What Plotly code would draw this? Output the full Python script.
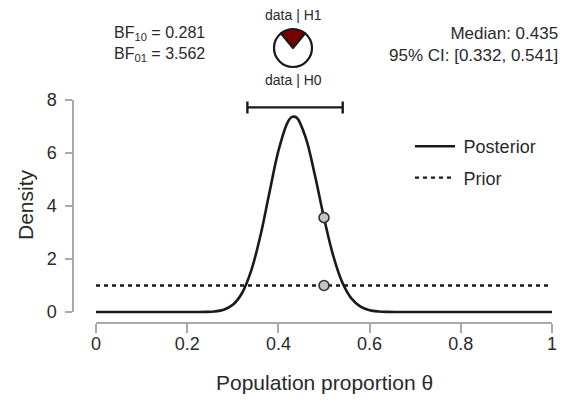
import plotly.graph_objects as go

# ---- data ----
theta = [0.00, 0.02, 0.04, 0.06, 0.08, 0.10, 0.12, 0.14, 0.16, 0.18,
         0.20, 0.22, 0.24, 0.26, 0.28, 0.30, 0.32, 0.34, 0.36, 0.38,
         0.40, 0.42, 0.43, 0.44, 0.46, 0.48, 0.50, 0.52, 0.54, 0.56,
         0.58, 0.60, 0.62, 0.64, 0.66, 0.68, 0.70, 0.72, 0.74, 0.76,
         0.78, 0.80, 0.82, 0.84, 0.86, 0.88, 0.90, 0.92, 0.94, 0.96,
         0.98, 1.00]
posterior = [0, 0, 0, 0, 0, 0, 0, 0, 0, 0,
             0.0001, 0.0006, 0.004, 0.021, 0.085, 0.270, 0.707, 1.542, 2.837, 4.476,
             6.078, 7.148, 7.362, 7.336, 6.572, 5.165, 3.553, 2.140, 1.126, 0.516,
             0.205, 0.070, 0.021, 0.005, 0.001, 0, 0, 0, 0, 0,
             0, 0, 0, 0, 0, 0, 0, 0, 0, 0,
             0, 0]
prior_x = [0.0, 1.0]
prior_y = [1.0, 1.0]
test_value = 0.5
posterior_at_test = 3.562
prior_at_test = 1.0
median = 0.435
ci_lower = 0.332
ci_upper = 0.541
bf10 = 0.281
bf01 = 3.562
x_ticks = [0, 0.2, 0.4, 0.6, 0.8, 1]
x_tick_labels = ["0", "0.2", "0.4", "0.6", "0.8", "1"]
y_ticks = [0, 2, 4, 6, 8]
y_tick_labels = ["0", "2", "4", "6", "8"]
pie_labels = ["data | H1", "data | H0"]
pie_values = [bf10, 1.0]
series_names = ["Posterior", "Prior"]

# ---- geometry (pixels in a 565x401 page) ----
W, H = 565, 401
FONT = "Liberation Sans, Arial, sans-serif"
TXT = "#2a2a2a"
AX = "#aaaaaa"

def px(x):
    return x / W

def py(y):
    return 1 - y / H

x0_px, x1_px = 96, 552        # theta 0 -> 1
y0_px, y8_px = 312, 100       # density 0 -> 8
ppx = (x1_px - x0_px) / 1.0
ppy = (y0_px - y8_px) / 8.0

data_xr = [-0.02, 1.02]
data_yr = [-0.6, 8.3]
dx_dom = [px(x0_px + data_xr[0] * ppx), px(x0_px + data_xr[1] * ppx)]
dy_dom = [py(y0_px - data_yr[0] * ppy), py(y0_px - data_yr[1] * ppy)]

fig = go.Figure()

fig.add_trace(go.Scatter(
    x=theta, y=posterior, mode="lines", name="\u2009" + series_names[0],
    line=dict(color="#1a1a1a", width=2.6, shape="spline", smoothing=1.0),
    legendgroup="post", hoverinfo="skip"))
fig.add_trace(go.Scatter(
    x=prior_x, y=prior_y, mode="lines", name="\u2009" + series_names[1],
    line=dict(color="#1a1a1a", width=2.4, dash="4px,4px"),
    legendgroup="prior", hoverinfo="skip"))
fig.add_trace(go.Scatter(
    x=[test_value, test_value], y=[posterior_at_test, prior_at_test],
    mode="markers", showlegend=False, hoverinfo="skip",
    marker=dict(size=10, color="#c4c4c4", line=dict(color="#333", width=1.6))))
fig.add_trace(go.Scatter(
    x=[median], y=[7.72], mode="markers", showlegend=False, hoverinfo="skip",
    marker=dict(size=1, color="rgba(0,0,0,0)"),
    error_x=dict(type="data", symmetric=False,
                 array=[ci_upper - median], arrayminus=[median - ci_lower],
                 color="#1a1a1a", thickness=2.4, width=6)))

# display axes (R-style detached)
fig.add_trace(go.Scatter(x=[None], y=[None], xaxis="x2", yaxis="y2",
                         showlegend=False, hoverinfo="skip"))

fig.add_trace(go.Pie(
    labels=pie_labels, values=pie_values, sort=False,
    direction="clockwise", rotation=-360 * bf10 / (1 + bf10) / 2,
    marker=dict(colors=["#7a0000", "white"], line=dict(color="#1a1a1a", width=2.2)),
    textinfo="none", showlegend=False, hoverinfo="skip",
    domain=dict(x=[px(274), px(312)], y=[py(67), py(29)])))

axis_common = dict(showgrid=False, zeroline=False, automargin=False)
fig.update_layout(
    width=W, height=H, autosize=False,
    margin=dict(l=0, r=0, t=0, b=0, pad=0, autoexpand=False),
    paper_bgcolor="white", plot_bgcolor="rgba(0,0,0,0)",
    font=dict(family=FONT, color=TXT),
    xaxis=dict(domain=dx_dom, range=data_xr, visible=False, **axis_common),
    yaxis=dict(domain=dy_dom, range=data_yr, visible=False, **axis_common),
    xaxis2=dict(domain=[px(x0_px), px(x1_px)], range=[0, 1], anchor="free",
                position=py(323), showline=True, linecolor=AX, linewidth=1.5,
                ticks="outside", ticklen=9, tickwidth=1.5, tickcolor=AX,
                tickvals=x_ticks, ticktext=x_tick_labels, ticklabelstandoff=-4,
                tickfont=dict(size=18, color=TXT, family=FONT), **axis_common),
    yaxis2=dict(domain=[py(y0_px), py(y8_px)], range=[0, 8], anchor="free",
                position=px(73), showline=True, linecolor=AX, linewidth=1.5,
                ticks="outside", ticklen=7, tickwidth=1.5, tickcolor=AX,
                tickvals=y_ticks, ticktext=y_tick_labels, ticklabelstandoff=5,
                tickfont=dict(size=18, color=TXT, family=FONT), **axis_common),
    legend=dict(x=px(410), y=py(128), xanchor="left", yanchor="top",
                font=dict(size=18, color=TXT, family=FONT),
                bgcolor="rgba(0,0,0,0)", tracegroupgap=5, itemwidth=40),
    showlegend=True,
)

annotations = [
    dict(text="Density", x=px(25), y=py(205), textangle=-90,
         font=dict(size=21)),
    dict(text="Population proportion θ", x=px(324), y=py(382),
         font=dict(size=21)),
    dict(text=f"BF<sub>10</sub> = {bf10:.3f}<br>BF<sub>01</sub> = {bf01:.3f}",
         x=px(112), y=py(44), xanchor="left", align="left", font=dict(size=16)),
    dict(text=f"Median: {median:.3f}<br>95% CI: [{ci_lower:.3f}, {ci_upper:.3f}]",
         x=px(560), y=py(44), xanchor="right", align="right", font=dict(size=17)),
    dict(text=pie_labels[0], x=px(293), y=py(15), font=dict(size=14)),
    dict(text=pie_labels[1], x=px(293), y=py(80), font=dict(size=14)),
]
for a in annotations:
    a.setdefault("xref", "paper")
    a.setdefault("yref", "paper")
    a.setdefault("showarrow", False)
    a.setdefault("xanchor", "center")
    a.setdefault("yanchor", "middle")
    a["font"] = dict(family=FONT, color=TXT, **a["font"])
fig.update_layout(annotations=annotations)

fig.write_html(
    "out.html",
    config={"displayModeBar": False, "responsive": False},
    post_script="document.body.style.margin='0';document.body.style.overflow='hidden';",
)
